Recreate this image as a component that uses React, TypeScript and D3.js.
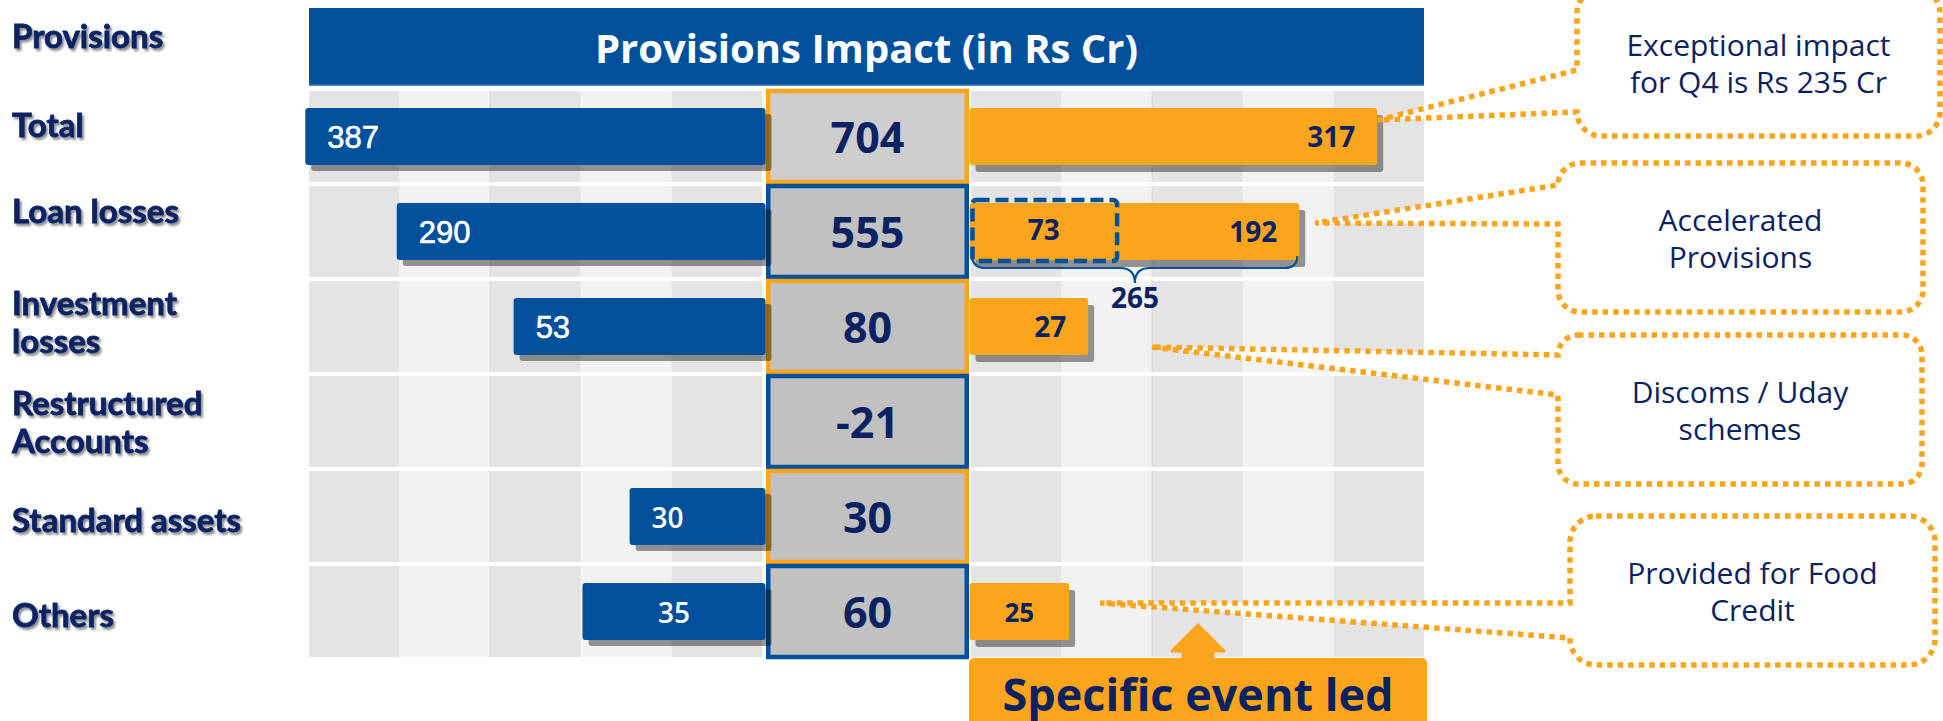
import React from "react";
import * as d3 from "d3";

// ---------- data ----------
const categories = [
  "Total",
  "Loan losses",
  "Investment losses",
  "Restructured Accounts",
  "Standard assets",
  "Others",
];
const labelLines = [
  ["Total"],
  ["Loan losses"],
  ["Investment", "losses"],
  ["Restructured", "Accounts"],
  ["Standard assets"],
  ["Others"],
];
const headerLabel = "Provisions";
const title = "Provisions Impact (in Rs Cr)";
const netImpact = [704, 555, 80, -21, 30, 60];
const leftValues = [387, 290, 53, null, 30, 35];
const rightValues = [317, 265, 27, null, null, 25];
const loanSplit = [73, 192];
// drawn bar lengths in grid columns (the slide does not draw bars to scale)
const leftSpan = [5.08, 4.07, 2.78, 0, 1.5, 2.02];
const rightSpan = [4.5, 3.64, 1.31, 0, 0, 1.1];
const loanSplitSpan = 1.64;
const calloutTexts = [
  ["Exceptional impact", "for Q4 is Rs 235 Cr"],
  ["Accelerated", "Provisions"],
  ["Discoms / Uday", "schemes"],
  ["Provided for Food", "Credit"],
];
const calloutRows = [0, 1, 2, 5];
const footerText = "Specific event led";

// ---------- layout / style ----------
const BLUE = "#00509b";
const NAVY = "#0b2262";
const ORANGE = "#fba51c";
const COL = 90.6;
const GRID_L = 309;
const GRID_R = 971;
const BOX_L = 766;
const BOX_R = 969;
const BAR_H = 57;
// vertical centre of each row label in the text column
const labelCentre = [137, 223, 334, 434, 532, 627];

const calloutLayout = [
  { x0: 1577, x1: 1940, y0: -11, y1: 136, a: 70, b: 112, r: 24, dx: 1, dy: -16.5 },
  { x0: 1558, x1: 1923, y0: 163, y1: 312, a: 185, b: 224, r: 22, dx: 16, dy: -8.5 },
  { x0: 1558, x1: 1922, y0: 335, y1: 484, a: 355, b: 395, r: 20, dx: 63, dy: 20.5 },
  { x0: 1570, x1: 1935, y0: 516, y1: 665, a: 603, b: 638, r: 26, dx: 31, dy: -8.5 },
];
const leftLabelAlign = ["start", "start", "start", "start", "start", "middle"];
const leftLabelFont = [
  "Liberation Sans",
  "Liberation Sans",
  "Liberation Sans",
  "Open Sans",
  "Open Sans",
  "Open Sans",
];

function calloutPath(c: any, tip: [number, number]) {
  const { x0, x1, y0, y1, a, b, r } = c;
  return `M${x0 + r},${y0} H${x1 - r} A${r},${r} 0 0 1 ${x1},${y0 + r} V${y1 - r} A${r},${r} 0 0 1 ${x1 - r},${y1} H${x0 + r} A${r},${r} 0 0 1 ${x0},${y1 - r} V${b} L${tip[0]},${tip[1]} L${x0},${a} V${y0 + r} A${r},${r} 0 0 1 ${x0 + r},${y0} Z`;
}

export default function App() {
  const W = 1943;
  const H = 721;

  const rowScale = d3
    .scaleBand<string>()
    .domain(categories)
    .range([91, 657])
    .paddingInner(4 / 95);
  const bw = rowScale.bandwidth();
  const cy = (i: number) => (rowScale(categories[i]) as number) + bw / 2;

  const xL = d3.scaleLinear().domain([0, 5]).range([765.5, 765.5 - 5 * COL]);
  const xR = d3.scaleLinear().domain([0, 5]).range([969.5, 969.5 + 5 * COL]);
  const cols = d3.range(5);

  const loanIdx = 1;
  const loanTop = cy(loanIdx) - BAR_H / 2;
  const loanBot = cy(loanIdx) + BAR_H / 2;
  const braceL = xR(0) + 3;
  const braceR = xR(rightSpan[loanIdx]) - 2;
  const braceM = (braceL + braceR) / 2;
  const bTop = loanBot - 4;
  const bFlat = loanBot + 8;
  const bTip = loanBot + 23;
  const bracePath = `M${braceL},${bTop} Q${braceL},${bFlat} ${braceL + 13},${bFlat} H${braceM - 15} Q${braceM},${bFlat} ${braceM},${bTip} Q${braceM},${bFlat} ${braceM + 15},${bFlat} H${braceR - 13} Q${braceR},${bFlat} ${braceR},${bTop}`;

  const footX0 = BOX_R;
  const footX1 = 1427;
  const footY = 658;
  const footCx = (footX0 + footX1) / 2;
  const arrow = `M${footCx},625 L${footCx + 26},651 L${footCx + 15},651 L${footCx + 15},${footY + 2} L${footCx - 15},${footY + 2} L${footCx - 15},651 L${footCx - 26},651 Z`;

  return (
    <svg
      width={W}
      height={H}
      viewBox={`0 0 ${W} ${H}`}
      style={{ position: "absolute", left: 0, top: 0, display: "block", background: "#fff" }}
    >
      <defs>
        <filter id="ts" x="-10%" y="-40%" width="130%" height="190%">
          <feDropShadow dx="2" dy="2.5" stdDeviation="1.3" floodColor="#000" floodOpacity="0.45" />
        </filter>
      </defs>

      {/* title banner */}
      <rect x={GRID_L} y={8} width={1424 - GRID_L} height={78} fill={BLUE} />
      <rect x={GRID_L} y={84.5} width={1424 - GRID_L} height={1.5} fill="#4f86c2" />
      <text
        x={(GRID_L + 1424) / 2}
        y={63}
        textAnchor="middle"
        fontFamily="Open Sans"
        fontWeight={700}
        fontSize={40}
        fill="#fff"
      >
        {title}
      </text>

      {/* grid */}
      {categories.map((c, i) => {
        const y = rowScale(c) as number;
        return (
          <g key={"g" + i}>
            {cols.map((j) => (
              <rect
                key={"l" + j}
                x={GRID_L + j * COL}
                y={y}
                width={COL}
                height={bw}
                fill={j % 2 === 0 ? "#e4e4e4" : "#f2f2f2"}
              />
            ))}
            {cols.map((j) => (
              <rect
                key={"r" + j}
                x={GRID_R + j * COL}
                y={y}
                width={COL}
                height={bw}
                fill={j % 2 === 0 ? "#e4e4e4" : "#f2f2f2"}
              />
            ))}
            <line x1={GRID_L + 2 * COL} x2={GRID_L + 2 * COL} y1={y} y2={y + bw} stroke="#d4d4d4" strokeWidth={1} />
            <line x1={GRID_R + 2 * COL} x2={GRID_R + 2 * COL} y1={y} y2={y + bw} stroke="#d4d4d4" strokeWidth={1} />
          </g>
        );
      })}

      {/* center boxes */}
      {categories.map((c, i) => {
        const y = rowScale(c) as number;
        return (
          <rect
            key={"b" + i}
            x={BOX_L + 2.25}
            y={y}
            width={BOX_R - BOX_L - 4.5}
            height={bw}
            fill={i === 0 ? "#cecece" : "#c1c1c1"}
            stroke={i % 2 === 0 ? ORANGE : BLUE}
            strokeWidth={4.5}
          />
        );
      })}

      {/* shadows */}
      {leftSpan.map((s, i) =>
        s > 0 ? (
          <rect
            key={"ls" + i}
            x={xL(s) + 6}
            y={cy(i) - BAR_H / 2 + 6}
            width={xL(0) - xL(s)}
            height={BAR_H}
            rx={3}
            fill="rgba(0,0,0,0.4)"
          />
        ) : null
      )}
      {rightSpan.map((s, i) =>
        s > 0 ? (
          <rect
            key={"rs" + i}
            x={xR(0) + 6}
            y={cy(i) - BAR_H / 2 + 7}
            width={xR(s) - xR(0)}
            height={BAR_H}
            rx={3}
            fill="rgba(0,0,0,0.4)"
          />
        ) : null
      )}

      {/* left bars */}
      {leftSpan.map((s, i) =>
        s > 0 ? (
          <rect
            key={"lb" + i}
            x={xL(s)}
            y={cy(i) - BAR_H / 2}
            width={xL(0) - xL(s)}
            height={BAR_H}
            rx={3}
            fill={BLUE}
          />
        ) : null
      )}
      {/* right bars */}
      {rightSpan.map((s, i) =>
        s > 0 ? (
          <rect
            key={"rb" + i}
            x={xR(0)}
            y={cy(i) - BAR_H / 2}
            width={xR(s) - xR(0)}
            height={BAR_H}
            rx={3}
            fill={ORANGE}
          />
        ) : null
      )}

      {/* loan split dashed box */}
      <rect
        x={xR(0) + 3}
        y={loanTop - 3}
        width={xR(loanSplitSpan) - xR(0) - 4}
        height={BAR_H + 4}
        rx={4}
        fill="none"
        stroke={BLUE}
        strokeWidth={4.5}
        strokeDasharray="13 6"
      />
      <path d={bracePath} fill="none" stroke={BLUE} strokeWidth={2.2} />
      <text
        x={braceM}
        y={bTip + 25}
        textAnchor="middle"
        fontFamily="Open Sans"
        fontWeight={700}
        fontSize={28}
        fill={NAVY}
      >
        {rightValues[loanIdx]}
      </text>

      {/* left bar labels */}
      {leftValues.map((v, i) => {
        if (v == null) return null;
        const x0 = xL(leftSpan[i]);
        const mid = leftLabelAlign[i] === "middle";
        const os = leftLabelFont[i] === "Open Sans";
        return (
          <text
            key={"lt" + i}
            x={mid ? (x0 + xL(0)) / 2 : x0 + 22}
            y={cy(i) + 11}
            textAnchor={mid ? "middle" : "start"}
            fontFamily={leftLabelFont[i]}
            fontWeight={os ? 600 : 400}
            fontSize={os ? 28 : 31}
            fill="#fff"
            stroke="#fff"
            strokeWidth={os ? 0 : 0.6}
          >
            {v}
          </text>
        );
      })}

      {/* right bar labels */}
      {rightValues.map((v, i) => {
        if (v == null) return null;
        const end = xR(rightSpan[i]);
        if (i === loanIdx) {
          return (
            <g key={"rt" + i}>
              <text
                x={(xR(0) + xR(loanSplitSpan)) / 2}
                y={cy(i) + 8}
                textAnchor="middle"
                fontFamily="Open Sans"
                fontWeight={700}
                fontSize={28}
                fill={NAVY}
              >
                {loanSplit[0]}
              </text>
              <text
                x={end - 22}
                y={cy(i) + 10}
                textAnchor="end"
                fontFamily="Open Sans"
                fontWeight={700}
                fontSize={28}
                fill={NAVY}
              >
                {loanSplit[1]}
              </text>
            </g>
          );
        }
        const small = rightSpan[i] < 1.2;
        return (
          <text
            key={"rt" + i}
            x={small ? (xR(0) + end) / 2 : end - 22}
            y={cy(i) + 10}
            textAnchor={small ? "middle" : "end"}
            fontFamily="Open Sans"
            fontWeight={700}
            fontSize={small ? 26 : 28}
            fill={NAVY}
          >
            {v}
          </text>
        );
      })}

      {/* center values */}
      {netImpact.map((v, i) => (
        <text
          key={"cv" + i}
          x={(BOX_L + BOX_R) / 2}
          y={cy(i) + 16}
          textAnchor="middle"
          fontFamily="Open Sans"
          fontWeight={700}
          fontSize={43}
          fill={NAVY}
        >
          {v}
        </text>
      ))}

      {/* row labels */}
      <text
        x={12}
        y={48}
        fontFamily="Lato"
        fontWeight={700}
        fontSize={33}
        fill={NAVY}
        stroke={NAVY}
        strokeWidth={0.8}
        filter="url(#ts)"
      >
        {headerLabel}
      </text>
      {labelLines.map((lines, i) => {
        const yc = labelCentre[i];
        const lh = 38.5;
        const y0 = yc - ((lines.length - 1) * lh) / 2;
        return (
          <text
            key={"lab" + i}
            x={12}
            y={y0}
            fontFamily="Lato"
            fontWeight={700}
            fontSize={33}
            fill={NAVY}
            stroke={NAVY}
            strokeWidth={0.8}
            filter="url(#ts)"
          >
            {lines.map((l, k) => (
              <tspan key={k} x={12} y={y0 + k * lh}>
                {l}
              </tspan>
            ))}
          </text>
        );
      })}

      {/* callouts */}
      {calloutTexts.map((lines, k) => {
        const c = calloutLayout[k];
        const row = calloutRows[k];
        const tip: [number, number] = [xR(rightSpan[row]) + c.dx, cy(row) + c.dy];
        const cx = (c.x0 + c.x1) / 2;
        const cyy = (c.y0 + c.y1) / 2;
        return (
          <g key={"co" + k}>
            <path
              d={calloutPath(c, tip)}
              fill="#fff"
              stroke={ORANGE}
              strokeWidth={5.5}
              strokeDasharray="5.5 5"
            />
            {lines.map((l, j) => (
              <text
                key={j}
                x={cx}
                y={cyy - 7 + j * 37.5}
                textAnchor="middle"
                fontFamily="Open Sans"
                fontSize={30}
                fill={NAVY}
              >
                {l}
              </text>
            ))}
          </g>
        );
      })}

      {/* footer: specific event led */}
      <path d={arrow} fill={ORANGE} stroke={ORANGE} strokeWidth={3} strokeLinejoin="round" />
      <rect x={footX0} y={footY} width={footX1 - footX0} height={90} rx={5} fill={ORANGE} />
      <text
        x={footCx}
        y={711}
        textAnchor="middle"
        fontFamily="Open Sans"
        fontWeight={700}
        fontSize={45}
        fill={NAVY}
      >
        {footerText}
      </text>
    </svg>
  );
}
